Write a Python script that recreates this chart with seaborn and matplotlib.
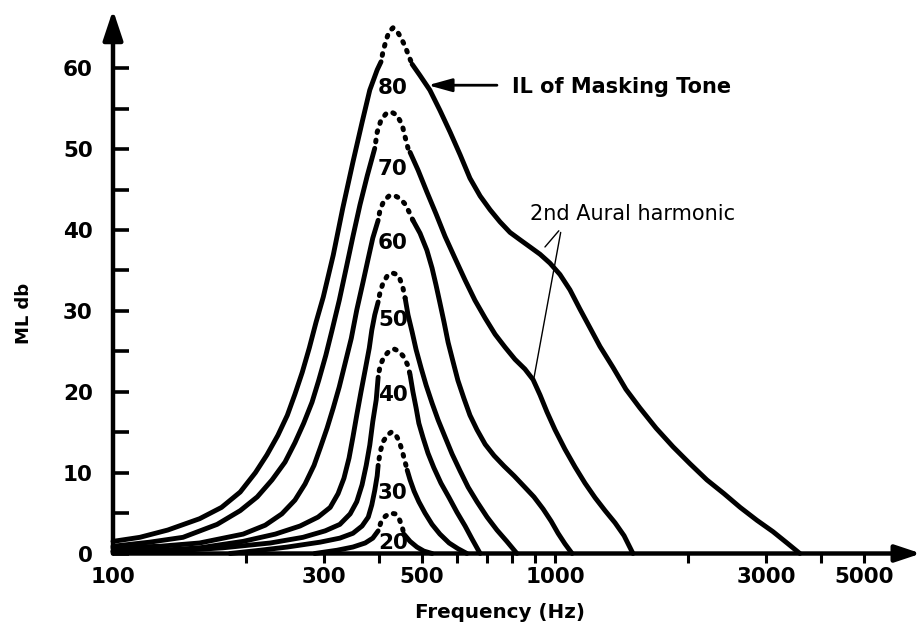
import matplotlib
matplotlib.use("Agg")
import matplotlib.pyplot as plt
from matplotlib.ticker import NullLocator
import seaborn as sns

# Masking curves: masked level (ML, dB) vs. frequency for a masking tone
# presented at several intensity levels (IL, dB).
levels = [80, 70, 60, 50, 40, 30, 20]

ml80_hz = [100, 115, 133, 157, 176, 194, 210, 223, 236, 248, 258, 268, 278, 288,
           299, 315, 331, 349, 366, 381, 396, 404,
           408, 415, 421, 430, 439, 448, 458, 467, 475,
           495, 521, 549, 579, 610, 642, 677, 713, 751, 791, 833, 878, 925, 974,
           1026, 1081, 1139, 1200, 1264, 1353, 1447, 1556, 1693, 1849, 2020, 2206,
           2412, 2624, 2864, 3113, 3349, 3581]
ml80_db = [1.5, 2.0, 2.9, 4.3, 5.7, 7.6, 10.0, 12.2, 14.6, 17.1, 19.7, 22.4, 25.4, 28.6,
           31.7, 36.9, 42.7, 48.4, 53.3, 57.3, 59.8, 60.8,
           62.0, 63.5, 64.5, 65.0, 64.6, 63.8, 62.7, 61.5, 60.5,
           59.1, 57.3, 54.8, 52.1, 49.3, 46.4, 44.2, 42.5, 41.0, 39.7, 38.8, 37.9, 37.0, 35.9,
           34.5, 32.6, 30.2, 27.9, 25.6, 23.0, 20.3, 18.0, 15.5, 13.2, 11.1, 9.1,
           7.4, 5.7, 4.1, 2.7, 1.3, 0.0]

ml70_hz = [100, 121, 144, 172, 194, 212, 229, 245, 258, 270, 282, 292, 303, 313,
           325, 337, 349, 362, 376, 391,
           396, 404, 415, 426, 439, 451, 458, 465, 470,
           490, 513, 538, 564, 594, 626, 659, 695, 732, 771, 812, 855, 892, 925,
           959, 1000, 1053, 1110, 1169, 1232, 1298, 1367, 1433, 1501]
ml70_db = [0.9, 1.4, 2.0, 3.6, 5.3, 7.0, 9.1, 11.3, 13.7, 16.1, 18.7, 21.4, 24.5, 27.6,
           31.3, 35.3, 39.2, 43.1, 46.7, 50.1,
           52.1, 53.6, 54.4, 54.6, 54.2, 53.0, 51.5, 50.1, 49.6,
           47.4, 44.7, 42.0, 39.2, 36.5, 33.8, 31.3, 29.1, 27.1, 25.5, 24.0, 22.8, 21.5, 19.6,
           17.5, 15.3, 12.9, 10.7, 8.7, 6.9, 5.3, 3.8, 2.2, 0.0]

ml60_hz = [100, 128, 157, 197, 221, 241, 258, 272, 285, 295, 305, 315, 325, 335,
           346, 356, 368, 378, 387, 398,
           402, 410, 421, 432, 446, 458, 467, 477,
           495, 513, 527, 538, 549, 561, 573, 588, 603, 622, 642, 666, 695, 728,
           767, 808, 851, 896, 940, 980, 1016, 1053, 1093]
ml60_db = [0.7, 0.9, 1.3, 2.4, 3.5, 4.9, 6.6, 8.6, 10.9, 13.2, 15.5, 18.0, 20.6, 23.5,
           26.6, 30.1, 33.6, 36.5, 39.0, 41.2,
           42.5, 43.6, 44.2, 44.3, 43.9, 43.2, 42.3, 41.2,
           39.6, 37.5, 35.3, 33.2, 31.0, 28.6, 26.1, 23.7, 21.4, 19.2, 17.1, 15.3, 13.5, 12.1,
           10.8, 9.6, 8.3, 7.0, 5.5, 4.0, 2.5, 1.2, 0.0]

ml50_hz = [100, 128, 157, 197, 233, 265, 291, 310, 323, 333, 342, 349, 356, 364,
           372, 380, 385, 391, 398,
           402, 408, 417, 428, 439, 446, 453, 458,
           465, 475, 485, 498, 511, 527, 544, 564, 585, 610, 636, 666, 702, 739, 778, 820]
ml50_db = [0.3, 0.4, 0.7, 1.5, 2.4, 3.4, 4.5, 5.7, 7.4, 9.3, 11.8, 14.4, 17.1, 20.0,
           22.7, 25.4, 27.6, 29.5, 31.1,
           32.3, 33.4, 34.3, 34.7, 34.5, 33.9, 32.8, 31.6,
           29.5, 27.4, 25.2, 22.9, 20.8, 18.6, 16.5, 14.4, 12.3, 10.2, 8.2, 6.4, 4.5, 2.9, 1.5, 0.0]

ml40_hz = [100, 135, 177, 227, 269, 302, 326, 344, 356, 366, 374, 381, 387, 394, 398,
           402, 410, 421, 432, 444, 455, 465, 470,
           477, 485, 492, 503, 516, 532, 552, 576, 600, 626, 649, 677]
ml40_db = [0.2, 0.3, 0.7, 1.3, 2.0, 2.8, 3.6, 4.9, 6.4, 8.5, 10.9, 13.4, 16.3, 19.0, 21.8,
           23.2, 24.3, 25.0, 25.3, 25.0, 24.3, 23.2, 22.1,
           20.0, 18.0, 16.1, 14.3, 12.4, 10.6, 8.7, 6.9, 5.1, 3.4, 1.8, 0.0]

ml30_hz = [184, 215, 248, 294, 326, 349, 366, 378, 385, 391, 396, 398,
           402, 408, 417, 426, 435, 444, 451, 458, 463,
           470, 480, 492, 508, 527, 549, 576, 603, 632]
ml30_db = [0.0, 0.4, 0.8, 1.4, 1.9, 2.5, 3.4, 4.5, 6.0, 7.8, 9.6, 10.9,
           12.5, 13.8, 14.6, 15.0, 14.8, 13.9, 12.7, 11.3, 10.3,
           9.1, 7.7, 6.4, 5.0, 3.6, 2.4, 1.3, 0.6, 0.0]

ml20_hz = [286, 321, 349, 372, 387, 398,
           404, 413, 423, 435, 444, 451, 455,
           470, 487, 505, 527]
ml20_db = [0.0, 0.4, 0.8, 1.3, 1.9, 2.8,
           3.9, 4.6, 5.0, 4.9, 4.3, 3.3, 2.4,
           1.5, 0.8, 0.3, 0.0]

# Frequency span near the tone where each curve is uncertain (drawn dotted)
dotted_from_hz = [404, 391, 398, 398, 398, 398, 398]
dotted_to_hz = [475, 470, 477, 458, 470, 463, 455]

curves_hz = [ml80_hz, ml70_hz, ml60_hz, ml50_hz, ml40_hz, ml30_hz, ml20_hz]
curves_db = [ml80_db, ml70_db, ml60_db, ml50_db, ml40_db, ml30_db, ml20_db]

xtick_hz = [100, 200, 300, 400, 500, 600, 700, 800, 900, 1000, 2000, 3000, 4000, 5000]
xlabel_hz = [100, 300, 500, 1000, 3000, 5000]
ytick_db = [0, 5, 10, 15, 20, 25, 30, 35, 40, 45, 50, 55, 60]

sns.set_theme(style="white")
plt.rcParams["font.family"] = ["DejaVu Sans"]
plt.rcParams["font.weight"] = "bold"

fig = plt.figure(figsize=(9.21, 6.25), dpi=100)
ax = fig.add_axes([113 / 921, 71.5 / 625, 808 / 921, 543.5 / 625])
ax.set_xscale("log")
ax.set_xlim(100, 6730)
ax.set_ylim(0, 67.2)
for s in ax.spines.values():
    s.set_visible(False)

LW = 3.5
for hz, db, lo, hi in zip(curves_hz, curves_db, dotted_from_hz, dotted_to_hz):
    rise = [(f, v) for f, v in zip(hz, db) if f <= lo]
    cap = [(f, v) for f, v in zip(hz, db) if lo <= f <= hi]
    fall = [(f, v) for f, v in zip(hz, db) if f >= hi]
    for seg in (rise, fall):
        sns.lineplot(x=[p[0] for p in seg], y=[p[1] for p in seg], ax=ax,
                     color="black", linewidth=LW, sort=False, estimator=None,
                     solid_capstyle="round", solid_joinstyle="round", clip_on=False)
    sns.lineplot(x=[p[0] for p in cap], y=[p[1] for p in cap], ax=ax,
                 color="black", linewidth=3.6, sort=False, estimator=None,
                 linestyle=(0.6, (0.35, 1.55)), dash_capstyle="round", clip_on=False)

# level of each curve written inside its peak
label_db = [57.5, 47.6, 38.4, 28.9, 19.6, 7.5, 1.3]
for lvl, y in zip(levels, label_db):
    ax.text(430, y, str(lvl), ha="center", va="center", fontsize=15.5,
            fontweight="bold", color="black")

# axes drawn as arrows
ax.annotate("", xy=(0, 1), xytext=(0, 0), xycoords="axes fraction",
            textcoords="axes fraction", annotation_clip=False,
            arrowprops=dict(arrowstyle="-|>,head_length=0.9,head_width=0.3",
                            lw=3.2, color="black", shrinkA=0, shrinkB=0,
                            mutation_scale=20))
ax.annotate("", xy=(1, 0), xytext=(0, 0), xycoords="axes fraction",
            textcoords="axes fraction", annotation_clip=False,
            arrowprops=dict(arrowstyle="-|>,head_length=0.9,head_width=0.3",
                            lw=3.2, color="black", shrinkA=0, shrinkB=0,
                            mutation_scale=17))

ax.set_xticks(xtick_hz)
ax.set_xticklabels([str(v) if v in xlabel_hz else "" for v in xtick_hz])
ax.xaxis.set_minor_locator(NullLocator())
ax.set_yticks(ytick_db)
ax.set_yticklabels([str(v) if v % 10 == 0 else "" for v in ytick_db])
ax.yaxis.set_minor_locator(NullLocator())
ax.tick_params(axis="x", direction="out", length=6.5, width=2.2, pad=3,
               labelsize=15.5, colors="black", bottom=True)
ax.tick_params(axis="y", direction="in", length=11.5, width=2.6, pad=14.5,
               labelsize=15.5, colors="black", left=True)
ax.xaxis.get_major_ticks()[0].tick1line.set_visible(False)
for t in ax.get_xticklabels() + ax.get_yticklabels():
    t.set_fontweight("bold")

# callouts
ax.annotate("", xy=(516, 57.9), xytext=(739, 57.9),
            arrowprops=dict(arrowstyle="-|>,head_length=0.9,head_width=0.25",
                            lw=2.0, color="black", shrinkA=0, shrinkB=0,
                            mutation_scale=16))
ax.text(799, 57.7, "IL of Masking Tone", ha="left", va="center",
        fontsize=15, fontweight="bold", color="black")
ax.text(878, 42.0, "2nd Aural harmonic", ha="left", va="center",
        fontsize=15, fontweight="normal", color="black")
ax.annotate("", xy=(949, 37.9), xytext=(1020, 39.9),
            arrowprops=dict(arrowstyle="-", lw=1.0, color="black",
                            shrinkA=0, shrinkB=0))
ax.annotate("", xy=(896, 21.7), xytext=(1030, 39.7),
            arrowprops=dict(arrowstyle="-", lw=1.0, color="black",
                            shrinkA=0, shrinkB=0))

fig.text(24 / 921, 1 - 313 / 625, "ML db", rotation=90, ha="center", va="center",
         fontsize=13, fontweight="bold", color="black")
fig.text(500 / 921, 1 - 618 / 625, "Frequency (Hz)", ha="center", va="baseline",
         fontsize=14.3, fontweight="bold", color="black")

fig.savefig("out.png", dpi=100)
